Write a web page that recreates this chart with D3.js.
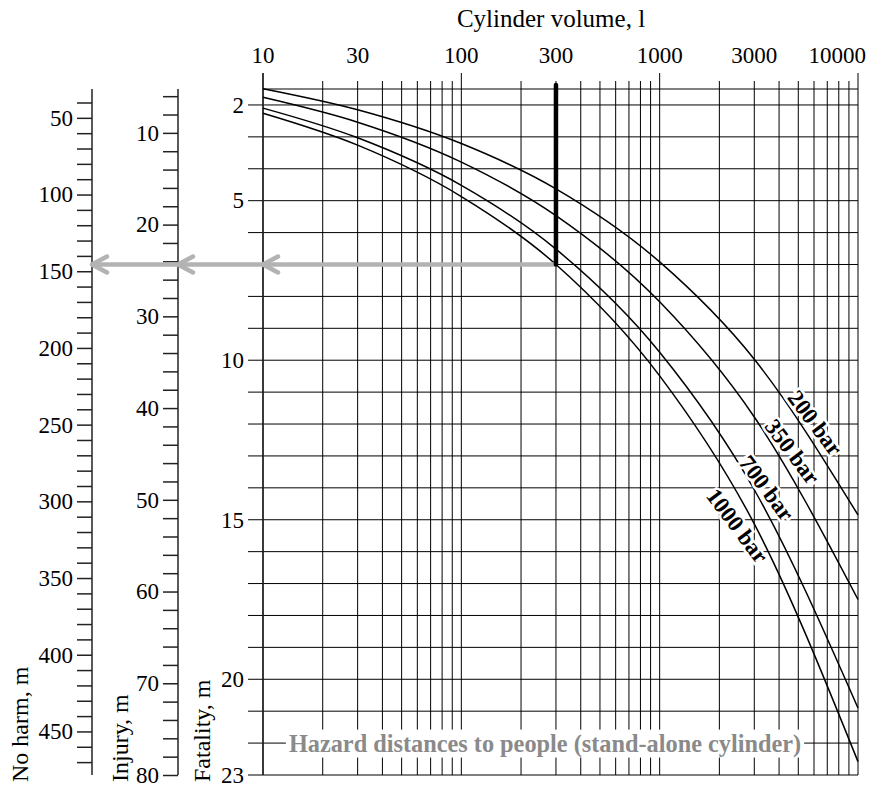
<!DOCTYPE html>
<html>
<head>
<meta charset="utf-8">
<script src="https://cdn.jsdelivr.net/npm/d3@7"></script>
<style>
  html, body { margin: 0; padding: 0; background: #fff; }
  svg { display: block; font-family: "Liberation Serif", "Times New Roman", serif; }
</style>
</head>
<body>
<svg id="chart" width="869" height="791"></svg>
<script>
// Cylinder volumes (litres) at which the curves are read
const volumes = [10, 30, 100, 300, 1000, 3000, 10000];
// Fatality distance (m) for each storage pressure
const fatality200 = [1.49, 2.15, 3.21, 4.63, 6.92, 9.97, 14.85];
const fatality350 = [1.76, 2.54, 3.79, 5.47, 8.17, 11.78, 17.5];
const fatality700 = [2.10, 3.03, 4.52, 6.52, 9.75, 14.06, 20.9];
const fatality1000 = [2.26, 3.26, 4.87, 7.0, 10.49, 15.13, 22.58];
const pressureLabels = ["200 bar", "350 bar", "700 bar", "1000 bar"];
// Where each pressure label sits (volume, fatality distance)
const labelVolumes = [6100, 4680, 3475, 2470];
const labelDistances = [11.96, 12.86, 14.0, 15.18];

// Top axis ticks
const volumeLabels = [10, 30, 100, 300, 1000, 3000, 10000];
const volumeMajor = [10, 100, 1000, 10000];
// Left scales: fatality, injury and no-harm distances
const fatalityDomain = [1.5, 23];
const fatalityLabels = [2, 5, 10, 15, 20, 23];
const injuryFactor = 80 / 23;
const injuryLabels = [10, 20, 30, 40, 50, 60, 70, 80];
const noHarmFactor = 20.8;
const noHarmLabels = [50, 100, 150, 200, 250, 300, 350, 400, 450];

// Worked example: 300 l cylinder at 1000 bar
const exampleVolume = 300;
const exampleDistance = 7;

const title = "Cylinder volume, l";
const footnote = "Hazard distances to people (stand-alone cylinder)";

const svg = d3.select("#chart");
const ink = "#000";
const grey = "#b3b3b3";

const x = d3.scaleLog().domain([10, 10000]).range([263, 858]);
const y = d3.scaleLinear().domain(fatalityDomain).range([89, 775]);
const yInjury = d3.scaleLinear().domain(fatalityDomain.map(d => d * injuryFactor)).range([89, 775]);
const yNoHarm = d3.scaleLinear().domain(fatalityDomain.map(d => d * noHarmFactor)).range([89, 775]);

const xAll = [];
for (const dec of [10, 100, 1000]) for (let k = 1; k <= 9; k++) xAll.push(dec * k);
xAll.push(10000);

const yTop = y.range()[0], yBot = y.range()[1];
const xL = x.range()[0], xR = x.range()[1];

// vertical grid
const grid = svg.append("g");
grid.selectAll("line.v").data(xAll).join("line")
  .attr("x1", d => x(d)).attr("x2", d => x(d))
  .attr("y1", d => volumeMajor.includes(d) ? yTop - 16 : yTop - 8)
  .attr("y2", yBot)
  .attr("stroke", ink).attr("stroke-width", 1);

// horizontal grid (one per metre) plus top border
const yInts = d3.range(2, 24);
grid.selectAll("line.h").data(yInts).join("line")
  .attr("x1", xL - 15).attr("x2", xR)
  .attr("y1", d => y(d)).attr("y2", d => y(d))
  .attr("stroke", ink).attr("stroke-width", 1);
grid.append("line")
  .attr("x1", xL).attr("x2", xR).attr("y1", yTop).attr("y2", yTop)
  .attr("stroke", ink).attr("stroke-width", 1);

// top tick labels; the last one is kept inside the right edge
svg.append("g").selectAll("text").data(volumeLabels).join("text")
  .attr("x", (d, i) => i === volumeLabels.length - 1 ? 866 : x(d)).attr("y", 62.5)
  .attr("text-anchor", (d, i) => i === volumeLabels.length - 1 ? "end" : "middle")
  .attr("font-size", 23).attr("fill", ink)
  .text(d => d);

svg.append("text").attr("x", 551).attr("y", 26.5)
  .attr("text-anchor", "middle").attr("font-size", 25).attr("fill", ink)
  .text(title);

// fatality labels
svg.append("g").selectAll("text").data(fatalityLabels).join("text")
  .attr("x", xL - 19).attr("y", d => y(d)).attr("dy", "0.34em")
  .attr("text-anchor", "end").attr("font-size", 23).attr("fill", ink)
  .text(d => d);

// injury and no-harm axes
function sideAxis(scale, xPos, step, labels) {
  const [d0, d1] = scale.domain();
  const ticks = d3.range(Math.ceil(d0 / step) * step, d1 + 1e-9, step);
  const g = svg.append("g").attr("transform", `translate(${xPos},0)`);
  const axis = d3.axisLeft(scale).tickValues(ticks).tickSize(15).tickSizeOuter(0).tickPadding(4)
    .tickFormat(d => labels.includes(Math.round(d)) ? Math.round(d) : "");
  g.call(axis);
  g.select(".domain").remove();
  g.append("line").attr("x1", 0).attr("x2", 0).attr("y1", yTop).attr("y2", yBot)
    .attr("stroke", "#222").attr("stroke-width", 1.5);
  g.selectAll(".tick line").attr("stroke", "#222").attr("stroke-width", 1.5);
  g.selectAll(".tick text").attr("font-family", "Liberation Serif, serif").attr("font-size", 23).attr("fill", ink);
  return g;
}
sideAxis(yNoHarm, 92, 10, noHarmLabels);
sideAxis(yInjury, 178, 2, injuryLabels);

// fatality axis line
svg.append("line").attr("x1", xL).attr("x2", xL).attr("y1", yTop - 16).attr("y2", yBot)
  .attr("stroke", "#222").attr("stroke-width", 1.5);

// rotated axis titles
const axisTitles = [["No harm, m", 28], ["Injury, m", 128], ["Fatality, m", 210]];
svg.append("g").selectAll("text").data(axisTitles).join("text")
  .attr("transform", d => `translate(${d[1]},782) rotate(-90)`)
  .attr("font-size", 24).attr("fill", ink).text(d => d[0]);

// pressure curves
const series = [fatality200, fatality350, fatality700, fatality1000];
const line = d3.line().x(d => x(d[0])).y(d => y(d[1])).curve(d3.curveMonotoneX);
svg.append("g").selectAll("path").data(series).join("path")
  .attr("d", s => line(volumes.map((v, i) => [v, s[i]])))
  .attr("fill", "none").attr("stroke", ink).attr("stroke-width", 1.5);

// pressure labels
svg.append("g").selectAll("text").data(pressureLabels).join("text")
  .attr("transform", (d, i) => `translate(${x(labelVolumes[i])},${y(labelDistances[i])}) rotate(53)`)
  .attr("text-anchor", "middle").attr("dy", "0.35em")
  .attr("font-size", 23).attr("font-weight", "bold").attr("fill", ink)
  .attr("stroke", "#fff").attr("stroke-width", 5).attr("paint-order", "stroke")
  .text(d => d);

// worked example: vertical marker and read-off arrow
const ex = x(exampleVolume), ey = y(exampleDistance);
svg.append("line").attr("x1", 92).attr("x2", ex).attr("y1", ey).attr("y2", ey)
  .attr("stroke", grey).attr("stroke-width", 4.5);
svg.append("g").selectAll("path").data([92, 178, xL]).join("path")
  .attr("d", d => `M${d + 15},${ey - 8}L${d},${ey}L${d + 15},${ey + 8}`)
  .attr("fill", "none").attr("stroke", grey).attr("stroke-width", 4.5)
  .attr("stroke-linecap", "round").attr("stroke-linejoin", "round");
svg.append("line").attr("x1", ex).attr("x2", ex).attr("y1", yTop - 4).attr("y2", ey)
  .attr("stroke", ink).attr("stroke-width", 4.5).attr("stroke-linecap", "round");

// footnote on the 22 m line
const fg = svg.append("g");
const ft = fg.append("text").attr("x", 545).attr("y", y(22) + 8.5)
  .attr("text-anchor", "middle").attr("font-size", 24.3).attr("font-weight", "bold")
  .attr("fill", "#8a8a8a").text(footnote);
const bb = ft.node().getBBox();
fg.insert("rect", "text").attr("x", bb.x - 3).attr("y", bb.y).attr("width", bb.width + 6).attr("height", bb.height)
  .attr("fill", "#fff");
</script>
</body>
</html>
